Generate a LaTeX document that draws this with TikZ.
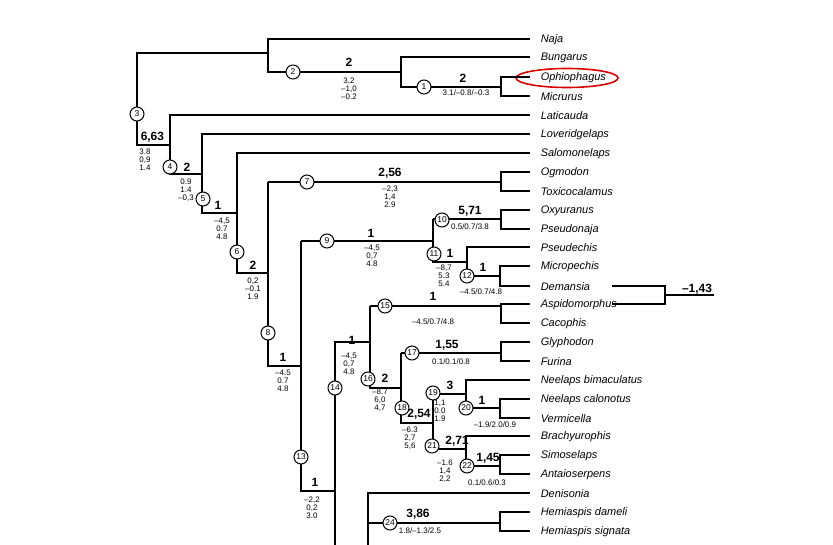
\documentclass[tikz,border=0pt]{standalone}
\usepackage{fontspec}
\setmainfont{Liberation Sans}
\begin{document}
\begin{tikzpicture}[x=1bp,y=-1bp,line width=1.5bp,
  tip/.style={anchor=west,font=\fontsize{11}{11}\selectfont\itshape,inner sep=0pt,xshift=10bp},
  cn/.style={circle,draw,line width=1bp,fill=white,inner sep=0pt,minimum size=14bp,font=\fontsize{8.5}{8.5}\selectfont},
  bl/.style={font=\fontsize{12}{12}\selectfont\bfseries,inner sep=0pt},
  vl/.style={font=\fontsize{8}{8.2}\selectfont,inner sep=0pt,align=center},
  br/.style={line join=miter}]
\useasboundingbox (0,0) rectangle (833,545);
% tips
\foreach \n/\y/\t in {naja/39/Naja,bung/57/Bungarus,ophi/77/Ophiophagus,micr/96/Micrurus,lati/115/Laticauda,love/134/Loveridgelaps,salo/153/Salomonelaps,ogmo/172/Ogmodon,toxi/191/Toxicocalamus,oxyu/210/Oxyuranus,pseu/229/Pseudonaja,psec/247/Pseudechis,mipe/266/Micropechis,dema/286/Demansia,aspi/304/Aspidomorphus,caco/323/Cacophis,glyp/342/Glyphodon,furi/361/Furina,neeb/380/Neelaps bimaculatus,neec/399/Neelaps calonotus,verm/418/Vermicella,brac/436/Brachyurophis,simo/455/Simoselaps,anta/474/Antaioserpens,deni/493/Denisonia,hemd/512/Hemiaspis dameli,hems/531/Hemiaspis signata}
  \node[tip] (\n) at (530,\y+1) {\t};
\draw[red!85!black,line width=1.6bp] (567,78) ellipse (51bp and 9.5bp);
% branches
\draw[br] (530,39) -- (268,39) -- (268,72) -- (401,72);
\draw[br] (268,53) -- (137,53) -- (137,145) -- (170,145);
\draw[br] (530,57) -- (401,57) -- (401,87) -- (501,87);
\draw[br] (530,77) -- (501,77) -- (501,96) -- (530,96);
\draw[br] (530,115) -- (170,115) -- (170,174) -- (202,174);
\draw[br] (530,134) -- (202,134) -- (202,213) -- (237,213);
\draw[br] (530,153) -- (237,153) -- (237,273) -- (268,273);
\draw[br] (268,182) -- (268,366) -- (301,366);
\draw[br] (268,182) -- (501,182);
\draw[br] (530,172) -- (501,172) -- (501,191) -- (530,191);
\draw[br] (301,241) -- (301,491) -- (335,491);
\draw[br] (301,241) -- (433,241);
\draw[br] (433,219) -- (433,262) -- (467,262);
\draw[br] (433,219) -- (501,219);
\draw[br] (530,210) -- (501,210) -- (501,229) -- (530,229);
\draw[br] (530,247) -- (467,247) -- (467,276) -- (500,276);
\draw[br] (530,266) -- (500,266) -- (500,286) -- (530,286);
\draw[br] (612,286) -- (665,286) -- (665,304) -- (612,304);
\draw (665,295) -- (714,295);
\draw[br] (335,545) -- (335,342) -- (370,342);
\draw[br] (370,306) -- (370,388) -- (401,388);
\draw[br] (370,306) -- (501,306);
\draw[br] (530,304) -- (501,304) -- (501,323) -- (530,323);
\draw[br] (401,353) -- (401,423) -- (433,423);
\draw[br] (401,353) -- (501,353);
\draw[br] (530,342) -- (501,342) -- (501,361) -- (530,361);
\draw[br] (433,394) -- (433,449) -- (466,449);
\draw[br] (433,394) -- (466,394);
\draw[br] (530,380) -- (466,380) -- (466,408) -- (500,408);
\draw[br] (530,399) -- (500,399) -- (500,418) -- (530,418);
\draw[br] (530,436) -- (466,436) -- (466,466) -- (500,466);
\draw[br] (530,455) -- (500,455) -- (500,474) -- (530,474);
\draw[br] (368,545) -- (368,493) -- (530,493);
\draw[br] (368,523) -- (500,523);
\draw[br] (530,512) -- (500,512) -- (500,531) -- (530,531);
% circles
\foreach \n/\x/\y in {1/424/87,2/293/72,3/137/114,4/170/167,5/203/199,6/237/252,7/307/182,8/268/333,9/327/241,10/442/220,11/434/254,12/467/276,13/301/457,14/335/388,15/385/306,16/368/379,17/412/353,18/402/408,19/433/393,20/466/408,21/432/446,22/467/466,24/390/523}
  \node[cn] (c\n) at (\x,\y) {\n};
% labels
\node[bl] (b2) at (349,62) {2};
\node[vl] (v2) at (349,89) {3,2\\–1,0\\–0.2};
\node[bl] (b1) at (463,78) {2};
\node[vl] (v1) at (466,93) {3.1/–0.8/–0.3};
\node[bl,anchor=west] (b3) at (140,137) {6,63};
\node[vl] (v3) at (145,160) {3.8\\0,9\\1.4};
\node[bl] (b4) at (187,167) {2};
\node[vl] (v4) at (186,190) {0.9\\1.4\\–0,3};
\node[bl] (b5) at (218,205) {1};
\node[vl] (v5) at (222,229) {–4,5\\0.7\\4.8};
\node[bl] (b6) at (253,265) {2};
\node[vl] (v6) at (253,289) {0,2\\–0.1\\1.9};
\node[bl] (b7) at (390,173) {2,56};
\node[vl] (v7) at (390,197) {–2,3\\1,4\\2.9};
\node[bl] (b8) at (283,357) {1};
\node[vl] (v8) at (283,381) {–4.5\\0.7\\4.8};
\node[bl] (b9) at (371,233) {1};
\node[vl] (v9) at (372,256) {–4,5\\0,7\\4.8};
\node[bl] (b10) at (470,211) {5,71};
\node[vl] (v10) at (470,227) {0.5/0.7/3.8};
\node[bl] (b11) at (450,253) {1};
\node[vl] (v11) at (444,276) {–8,7\\5.3\\5.4};
\node[bl] (b12) at (483,267) {1};
\node[vl] (v12) at (481,292) {–4.5/0.7/4.8};
\node[bl] (b43) at (697,289) {–1,43};
\node[bl] (b15) at (433,296) {1};
\node[vl] (v15) at (433,322) {–4.5/0.7/4.8};
\node[bl] (b14) at (352,340) {1};
\node[vl] (v14) at (349,364) {–4,5\\0,7\\4.8};
\node[bl] (b16) at (385,378) {2};
\node[vl] (v16) at (380,400) {–8.7\\6,0\\4,7};
\node[bl] (b17) at (447,345) {1,55};
\node[vl] (v17) at (451,362) {0.1/0.1/0.8};
\node[bl] (b18) at (419,414) {2,54};
\node[vl] (v18) at (410,438) {–6.3\\2,7\\5,6};
\node[bl] (b19) at (450,385) {3};
\node[vl] (v19) at (440,411) {1,1\\0.0\\1.9};
\node[bl] (b20) at (482,400) {1};
\node[vl] (v20) at (495,425) {–1.9/2.0/0.9};
\node[bl] (b21) at (457,441) {2,71};
\node[vl] (v21) at (445,471) {–1.6\\1,4\\2,2};
\node[bl] (b22) at (488,458) {1,45};
\node[vl] (v22) at (487,483) {0.1/0.6/0.3};
\node[bl] (b13) at (315,482) {1};
\node[vl] (v13) at (312,508) {–2,2\\0,2\\3.0};
\node[bl] (b24) at (418,514) {3,86};
\node[vl] (v24) at (420,531) {1.8/–1.3/2.5};
\end{tikzpicture}
\end{document}
